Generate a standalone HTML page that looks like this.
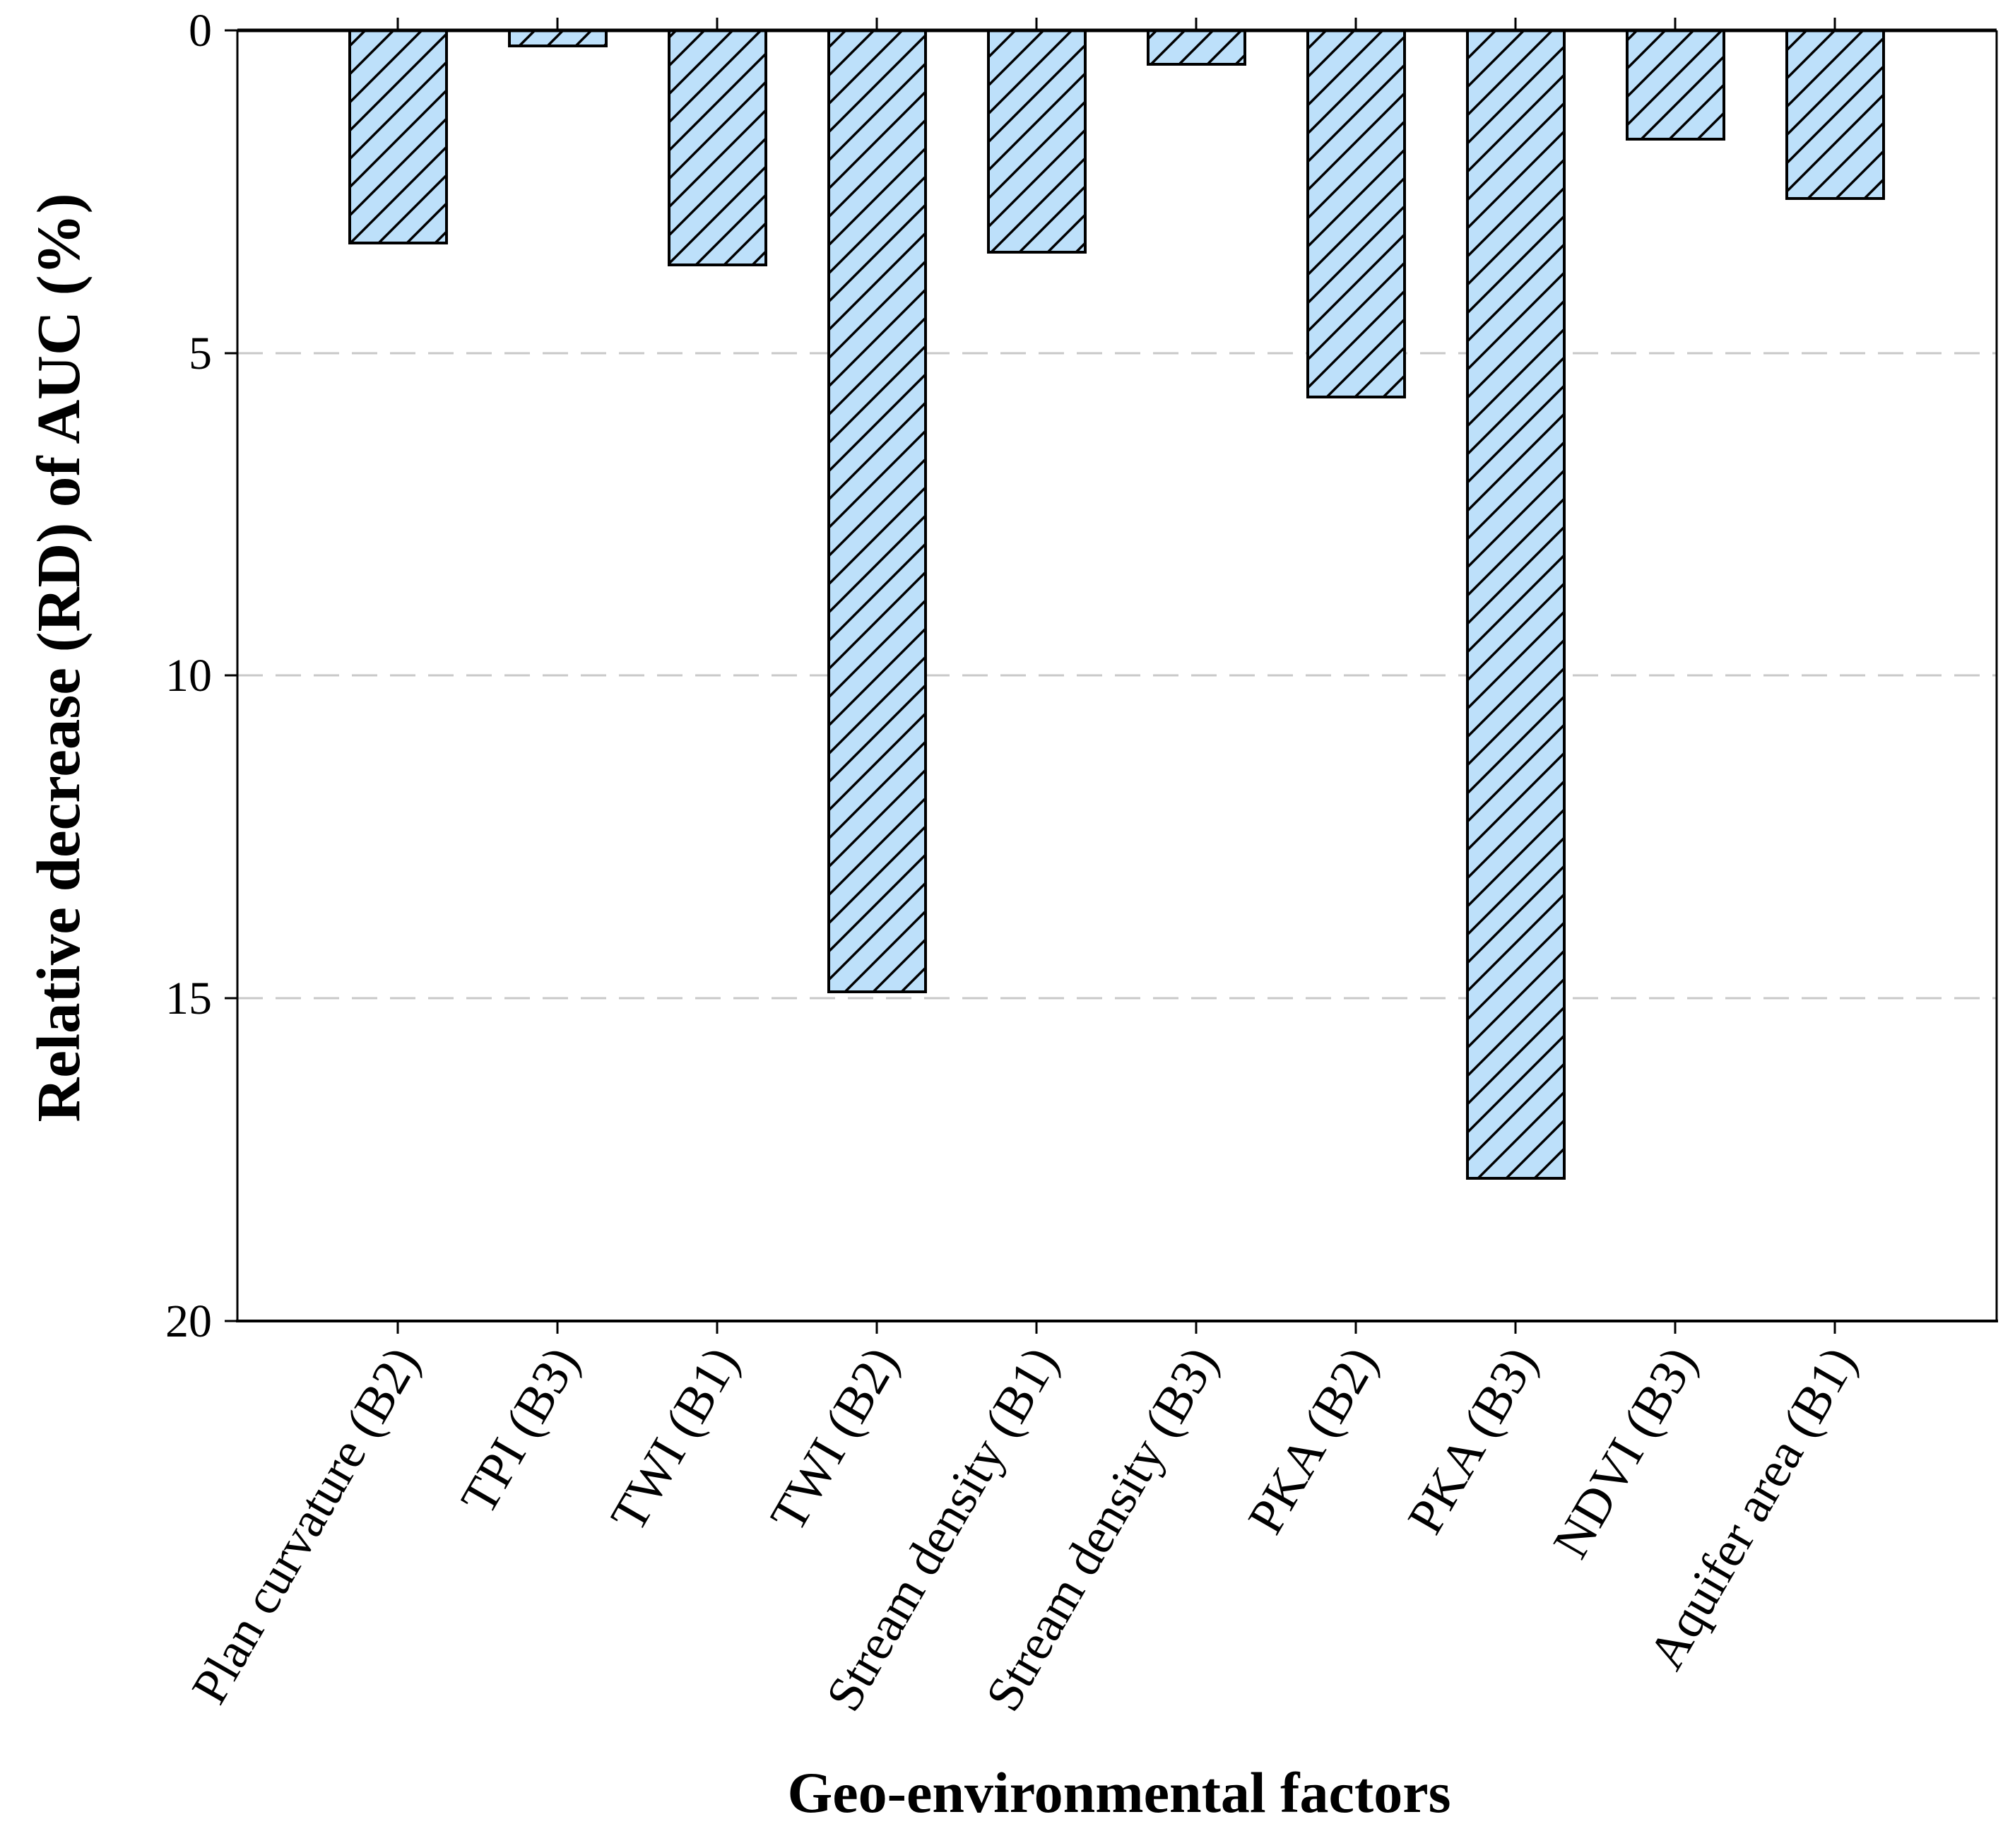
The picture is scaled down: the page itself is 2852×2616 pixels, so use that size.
<!DOCTYPE html>
<html><head><meta charset="utf-8"><style>html,body{margin:0;padding:0;background:#fff}</style></head>
<body>
<svg width="2852" height="2611" viewBox="0 0 2852 2611" xmlns="http://www.w3.org/2000/svg">
<defs>
<pattern id="h" patternUnits="userSpaceOnUse" width="40" height="40">
<rect width="40" height="40" fill="#bde0fa"/>
<path d="M-5,45 L45,-5 M-5,5 L5,-5 M35,45 L45,35" stroke="#000" stroke-width="3.5"/>
</pattern>
</defs>
<g stroke="#c8c8c8" stroke-width="3" stroke-dasharray="36,18">
<line x1="336" y1="500" x2="2826" y2="500"/>
<line x1="336" y1="956" x2="2826" y2="956"/>
<line x1="336" y1="1413" x2="2826" y2="1413"/>
</g>
<g stroke="#000" stroke-width="4" fill="url(#h)">
<rect x="495" y="43" width="137" height="301"/>
<rect x="721" y="43" width="137" height="22"/>
<rect x="947" y="43" width="137" height="332"/>
<rect x="1173" y="43" width="137" height="1361"/>
<rect x="1399" y="43" width="137" height="314"/>
<rect x="1625" y="43" width="137" height="48"/>
<rect x="1851" y="43" width="137" height="519"/>
<rect x="2077" y="43" width="137" height="1625"/>
<rect x="2303" y="43" width="137" height="154"/>
<rect x="2529" y="43" width="137" height="238"/>
</g>
<g stroke="#000" fill="none">
<line x1="336" y1="43" x2="2826" y2="43" stroke-width="5"/>
<line x1="336" y1="43" x2="336" y2="1870" stroke-width="3"/>
<line x1="2826" y1="43" x2="2826" y2="1870" stroke-width="3"/>
<line x1="334" y1="1870" x2="2828" y2="1870" stroke-width="4"/>
<g stroke-width="3">
<line x1="318" y1="43" x2="336" y2="43"/><line x1="318" y1="500" x2="336" y2="500"/>
<line x1="318" y1="956" x2="336" y2="956"/><line x1="318" y1="1413" x2="336" y2="1413"/>
<line x1="318" y1="1870" x2="336" y2="1870"/>
<path d="M563,43v-18M789,43v-18M1015,43v-18M1241,43v-18M1467,43v-18M1693,43v-18M1919,43v-18M2145,43v-18M2371,43v-18M2597,43v-18"/>
<path d="M563,1870v18M789,1870v18M1015,1870v18M1241,1870v18M1467,1870v18M1693,1870v18M1919,1870v18M2145,1870v18M2371,1870v18M2597,1870v18"/>
</g>
</g>
<g font-family="Liberation Serif, serif" font-size="66" text-anchor="end" fill="#000">
<text x="300" y="65">0</text>
<text x="300" y="522">5</text>
<text x="300" y="978">10</text>
<text x="300" y="1435">15</text>
<text x="300" y="1892">20</text>
</g>
<g font-family="Liberation Serif, serif" font-size="72" text-anchor="end" fill="#000">
<text transform="translate(595,1925) rotate(-60)">Plan curvature (B2)</text>
<text transform="translate(821,1925) rotate(-60)">TPI (B3)</text>
<text transform="translate(1047,1925) rotate(-60)">TWI (B1)</text>
<text transform="translate(1273,1925) rotate(-60)">TWI (B2)</text>
<text transform="translate(1499,1925) rotate(-60)">Stream density (B1)</text>
<text transform="translate(1725,1925) rotate(-60)">Stream density (B3)</text>
<text transform="translate(1951,1925) rotate(-60)">PKA (B2)</text>
<text transform="translate(2177,1925) rotate(-60)">PKA (B3)</text>
<text transform="translate(2403,1925) rotate(-60)">NDVI (B3)</text>
<text transform="translate(2629,1925) rotate(-60)">Aquifer area (B1)</text>
</g>
<text x="1584" y="2565" font-family="Liberation Serif, serif" font-weight="bold" font-size="82" text-anchor="middle">Geo-environmental factors</text>
<text transform="translate(112,931) rotate(-90)" font-family="Liberation Serif, serif" font-weight="bold" font-size="87" text-anchor="middle">Relative decrease (RD) of AUC  (%)</text>
</svg>
</body></html>
